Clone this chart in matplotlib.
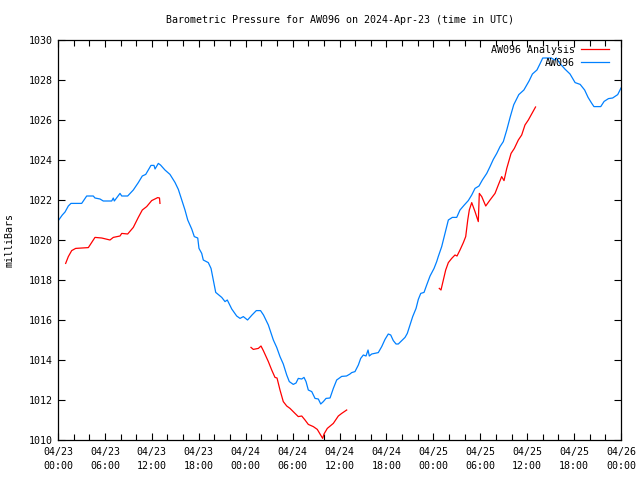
import matplotlib
matplotlib.use("Agg")
import matplotlib.pyplot as plt
import matplotlib.dates as mdates
import numpy as np
import pandas as pd

start = pd.Timestamp("2024-04-23 00:00")

# AW096 observations: hours since 2024-04-23 00:00 UTC, pressure (mb)
obs_hours = [0.0, 0.55, 0.9, 1.32, 1.66, 3.03, 3.67, 4.51, 4.73, 5.37, 5.79, 6.87, 7.07, 7.2,
             7.93, 8.15, 8.91, 9.63, 10.27, 10.78, 11.22, 11.89, 12.28, 12.41, 12.83, 13.11,
             13.68, 14.32, 14.96, 15.39, 15.82, 16.24, 16.59, 17.1, 17.43, 17.87, 18.03, 18.38,
             18.58, 19.22, 19.57, 19.86, 20.17, 20.94, 21.36, 21.65, 22.22, 22.85, 23.28, 23.7,
             24.24, 24.81, 25.36, 25.9, 26.28, 26.9, 27.54, 27.97, 28.39, 28.81, 29.25, 29.58,
             30.09, 30.44, 30.73, 31.17, 31.46, 31.72, 32.01, 32.45, 32.87, 33.29, 33.6, 33.93,
             34.28, 34.79, 35.21, 35.64, 36.28, 36.9, 37.34, 37.56, 37.98, 38.41, 38.71, 39.05,
             39.39, 39.65, 39.81, 40.12, 40.96, 41.4, 41.82, 42.24, 42.55, 42.88, 43.23, 43.52,
             43.96, 44.38, 44.67, 45.02, 45.36, 45.79, 46.08, 46.39, 46.81, 47.15, 47.58, 48.09,
             48.43, 48.63, 49.07, 49.49, 49.92, 50.43, 50.99, 51.41, 51.96, 52.47, 52.91, 53.33,
             53.84, 54.27, 54.83, 55.25, 55.67, 56.11, 56.53, 56.95, 57.39, 57.83, 58.28, 58.93,
             59.58, 60.24, 60.67, 61.25, 61.68, 61.99, 63.08, 63.51, 63.73, 64.16, 64.82, 65.48,
             66.13, 66.78, 67.35, 67.79, 68.23, 68.54, 69.41, 69.84, 70.4, 70.93, 71.58, 72.0]
obs_mb = [1020.95, 1021.25, 1021.4, 1021.7, 1021.83, 1021.83, 1022.2, 1022.2, 1022.1, 1022.05,
          1021.95, 1021.95, 1022.1, 1021.95, 1022.33, 1022.2, 1022.2, 1022.5, 1022.87, 1023.2,
          1023.28, 1023.73, 1023.73, 1023.55, 1023.83, 1023.75, 1023.5, 1023.28, 1022.88, 1022.53,
          1022.0, 1021.5, 1021.0, 1020.55, 1020.17, 1020.1, 1019.58, 1019.33, 1019.0, 1018.87,
          1018.58, 1018.0, 1017.38, 1017.13, 1016.92, 1017.0, 1016.55, 1016.2, 1016.08, 1016.17,
          1016.0, 1016.25, 1016.47, 1016.47, 1016.25, 1015.75, 1015.0, 1014.63, 1014.17, 1013.8,
          1013.25, 1012.92, 1012.78, 1012.85, 1013.08, 1013.05, 1013.13, 1012.92, 1012.5, 1012.42,
          1012.08, 1012.05, 1011.8, 1011.92, 1012.08, 1012.1, 1012.58, 1013.0, 1013.18, 1013.2,
          1013.3, 1013.37, 1013.42, 1013.75, 1014.08, 1014.25, 1014.2, 1014.5, 1014.2, 1014.3,
          1014.37, 1014.67, 1015.03, 1015.3, 1015.25, 1014.97, 1014.8, 1014.8, 1014.97, 1015.13,
          1015.33, 1015.75, 1016.17, 1016.58, 1017.03, 1017.33, 1017.38, 1017.75, 1018.2, 1018.58,
          1018.92, 1019.17, 1019.67, 1020.33, 1021.0, 1021.13, 1021.13, 1021.5, 1021.75, 1021.97,
          1022.25, 1022.58, 1022.7, 1023.0, 1023.33, 1023.67, 1024.03, 1024.33, 1024.67, 1024.92,
          1025.5, 1026.15, 1026.76, 1027.27, 1027.5, 1027.95, 1028.3, 1028.5, 1028.84, 1029.1,
          1029.1, 1029.0, 1029.1, 1028.84, 1028.55, 1028.3, 1027.87, 1027.78, 1027.5, 1027.13,
          1026.85, 1026.67, 1026.67, 1026.93, 1027.07, 1027.1, 1027.27, 1027.6]

# AW096 Analysis: three separate segments
ana1_hours = [0.98, 1.32, 1.75, 2.26, 3.88, 4.73, 5.59, 6.65, 7.07, 7.93, 8.15, 8.91, 9.63,
              10.27, 10.78, 11.34, 11.98, 12.75, 12.98, 13.04]
ana1_mb = [1018.83, 1019.17, 1019.47, 1019.58, 1019.62, 1020.13, 1020.1, 1020.0, 1020.13, 1020.2,
           1020.33, 1020.3, 1020.63, 1021.13, 1021.5, 1021.67, 1021.97, 1022.12, 1022.1, 1021.83]
ana2_hours = [24.68, 24.98, 25.62, 25.96, 26.26, 26.9, 27.33, 27.75, 28.01, 28.39, 28.81, 29.25,
              29.67, 30.31, 30.73, 31.17, 31.59, 32.01, 32.65, 33.16, 33.51, 33.85, 34.02, 34.44,
              35.21, 35.85, 36.28, 36.92]
ana2_mb = [1014.63, 1014.53, 1014.58, 1014.7, 1014.47, 1013.92, 1013.5, 1013.13, 1013.1, 1012.5,
           1011.92, 1011.7, 1011.58, 1011.33, 1011.17, 1011.2, 1011.0, 1010.78, 1010.67, 1010.53,
           1010.3, 1010.08, 1010.3, 1010.58, 1010.83, 1011.2, 1011.33, 1011.5]
ana3_hours = [48.76, 48.98, 49.28, 49.58, 49.92, 50.35, 50.77, 51.03, 51.41, 51.84, 52.14, 52.4,
              52.6, 52.91, 53.33, 53.75, 53.88, 54.19, 54.7, 55.25, 55.89, 56.31, 56.74, 57.04,
              57.39, 57.94, 58.36, 58.87, 59.3, 59.72, 60.15, 61.07]
ana3_mb = [1017.58, 1017.5, 1018.0, 1018.5, 1018.87, 1019.08, 1019.25, 1019.2, 1019.5, 1019.87,
           1020.17, 1021.0, 1021.5, 1021.87, 1021.42, 1020.92, 1022.33, 1022.17, 1021.7, 1022.0,
           1022.33, 1022.75, 1023.17, 1022.97, 1023.58, 1024.33, 1024.58, 1025.0, 1025.25, 1025.75,
           1026.0, 1026.65]

y_ticks = [1010, 1012, 1014, 1016, 1018, 1020, 1022, 1024, 1026, 1028, 1030]


def to_time(h):
    return start + pd.to_timedelta(np.asarray(h, dtype=float), unit="h")


plt.rcParams["font.family"] = ["DejaVu Sans Mono"]
FS = 7.2

fig = plt.figure(figsize=(6.4, 4.8), dpi=100)
ax = fig.add_axes([58 / 640, 40 / 480, 563 / 640, 400 / 480])

red = "#ff0000"
blue = "#0080ff"
lw = 0.9

first = True
for hrs, vals in [(ana1_hours, ana1_mb), (ana2_hours, ana2_mb), (ana3_hours, ana3_mb)]:
    ax.plot(to_time(hrs), vals, color=red, lw=lw, label="AW096 Analysis" if first else "_nolegend_")
    first = False
ax.plot(to_time(obs_hours), obs_mb, color=blue, lw=lw, label="AW096")

ax.set_xlim(start, start + pd.Timedelta(hours=72))
ax.set_ylim(1010, 1030)
ax.set_yticks(y_ticks)

ax.xaxis.set_major_locator(mdates.HourLocator(byhour=[0, 6, 12, 18]))
ax.xaxis.set_minor_locator(mdates.HourLocator(byhour=list(range(0, 24, 2))))
ax.xaxis.set_major_formatter(mdates.DateFormatter("%m/%d\n%H:%M"))

ax.tick_params(axis="both", which="both", direction="in", top=True, right=True,
               labelsize=FS, width=0.8, colors="black")
ax.tick_params(axis="x", which="major", length=5, pad=5)
ax.tick_params(axis="x", which="minor", length=4)
ax.tick_params(axis="y", which="major", length=5, pad=4)
for lab in ax.get_xticklabels():
    lab.set_linespacing(1.45)

for s in ax.spines.values():
    s.set_linewidth(0.9)
    s.set_color("black")

ax.set_ylabel("milliBars", fontsize=FS, labelpad=10)
ax.set_title("Barometric Pressure for AW096 on 2024-Apr-23 (time in UTC)", fontsize=FS, pad=12.5)

ax.legend(loc="upper right", bbox_to_anchor=(1 - 12 / 563, 1 - 5 / 400), frameon=False,
          markerfirst=False, fontsize=FS, handlelength=2.8, handletextpad=0.6,
          labelspacing=0.3, borderaxespad=0.0, borderpad=0.0)

fig.savefig("out.png", dpi=100)
